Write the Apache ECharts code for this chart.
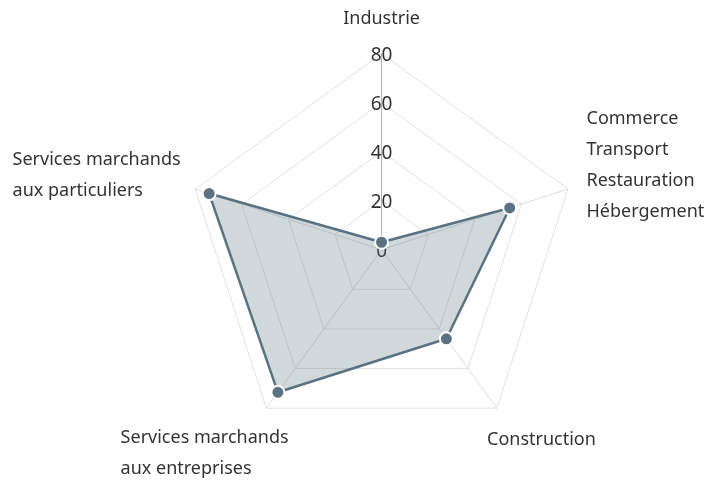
<!DOCTYPE html>
<html>
<head>
<meta charset="utf-8">
<script src="https://cdn.jsdelivr.net/npm/echarts@6/dist/echarts.min.js"></script>
<style>
  html, body { margin: 0; padding: 0; background: #fff; }
  #main { width: 704px; height: 480px; }
</style>
</head>
<body>
<div id="main"></div>
<script>
var chartDom = document.getElementById('main');
var myChart = echarts.init(chartDom);
var option;

// indicators, in the order ECharts lays them out (counter-clockwise from the top)
const sectors = [
  'Industrie',
  'Services marchands\naux particuliers',
  'Services marchands\naux entreprises',
  'Construction',
  'Commerce\nTransport\nRestauration\nHébergement'
];
const maxValue = 80;
const values = [3, 74, 72, 45, 55];

// name placement per indicator: gap from the outer ring, alignment, spacer line
const nameLayout = [
  { nameGap: 34.5, align: 'center', valign: 'middle', spacer: null },
  { nameGap: 192, align: 'left', valign: 'top', spacer: 'top15' },
  { nameGap: 248, align: 'left', valign: 'bottom', spacer: 'bot124' },
  { nameGap: 76, align: 'center', valign: 'bottom', spacer: 'bot14' },
  { nameGap: 19.5, align: 'left', valign: 'middle', spacer: 'bot36' }
];

const indicators = sectors.map(function (name, i) {
  var l = nameLayout[i];
  var ind = {
    name: name,
    max: maxValue,
    min: 0,
    nameGap: l.nameGap,
    spacer: l.spacer,
    nameTextStyle: { align: l.align, verticalAlign: l.valign }
  };
  if (i === 0) {
    // only the top axis carries the scale
    ind.axisLabel = { show: true };
    ind.axisLine = { show: true, lineStyle: { color: '#b5b5b5', width: 1 } };
  }
  return ind;
});

option = {
  textStyle: { fontFamily: 'Noto Sans' },
  radar: {
    center: ['54.2%', '52%'],
    radius: 196,
    shape: 'polygon',
    splitNumber: 4,
    startAngle: 90,
    indicator: indicators,
    axisName: {
      color: '#333',
      fontSize: 18,
      lineHeight: 31,
      fontFamily: 'Noto Sans',
      formatter: function (name, ind) {
        if (!ind || !ind.spacer) return name;
        var s = ind.spacer;
        return s.indexOf('top') === 0 ? '{' + s + '| }\n' + name : name + '\n{' + s + '| }';
      },
      rich: {
        top15: { fontSize: 1, lineHeight: 15 },
        bot124: { fontSize: 1, lineHeight: 124 },
        bot14: { fontSize: 1, lineHeight: 14 },
        bot36: { fontSize: 1, lineHeight: 36 }
      }
    },
    axisLine: { lineStyle: { color: '#dcdcdc', width: 1 } },
    splitLine: { lineStyle: { color: '#e2e2e2', width: 1 } },
    splitArea: { show: false },
    axisTick: { show: false },
    axisLabel: {
      show: false,
      color: '#333',
      fontSize: 19,
      margin: 0,
      align: 'center',
      verticalAlign: 'middle',
      fontFamily: 'Noto Sans',
      formatter: function (v) { return '{v|' + v + '}'; },
      rich: {
        v: { fontSize: 19, color: '#333', padding: [4, 0, 0, 0] }
      }
    }
  },
  series: [
    {
      type: 'radar',
      symbol: 'circle',
      symbolSize: 13,
      itemStyle: { color: '#5a7282', borderColor: '#fff', borderWidth: 2 },
      lineStyle: { color: '#5a7282', width: 2.5 },
      areaStyle: { color: '#5a7282', opacity: 0.28 },
      data: [{ value: values, name: 'Secteurs' }]
    }
  ]
};

option && myChart.setOption(option);
</script>
</body>
</html>
